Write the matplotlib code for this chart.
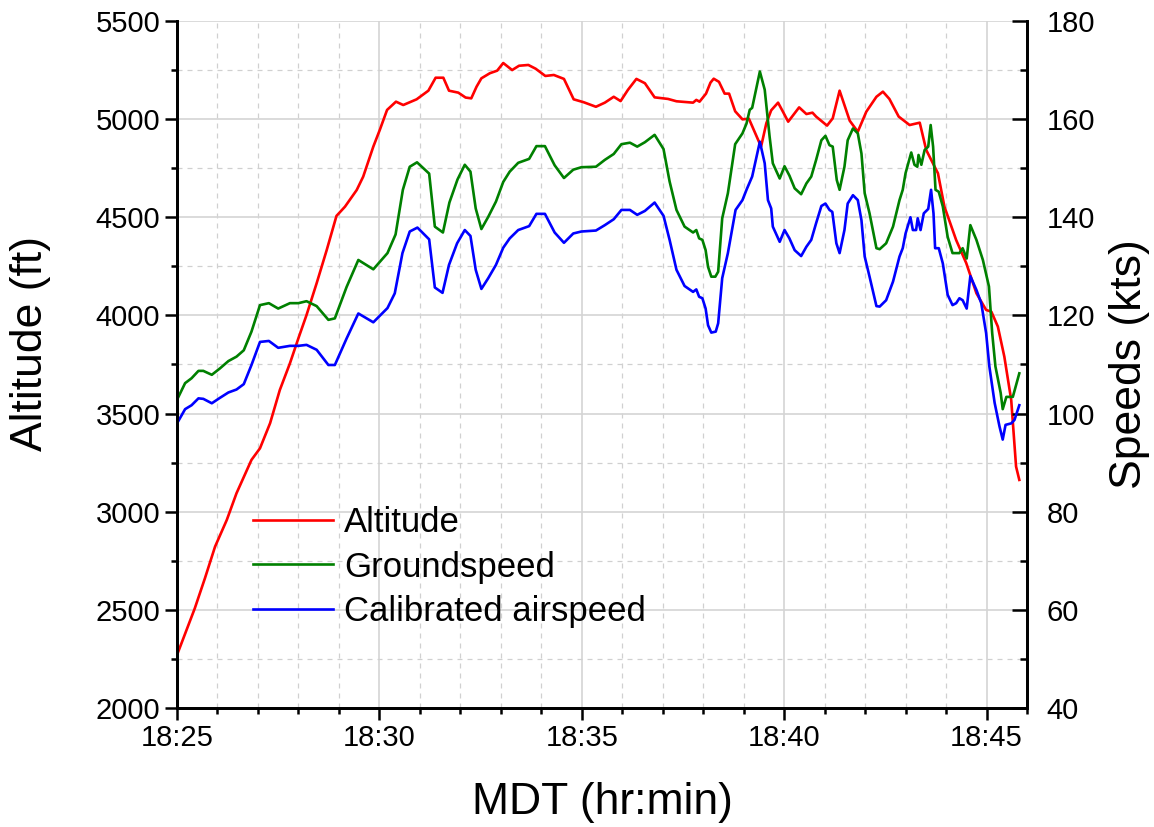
import numpy as np
import matplotlib
matplotlib.use("Agg")
import matplotlib.pyplot as plt
from matplotlib.ticker import MultipleLocator, FuncFormatter

plt.rcParams['font.family'] = ['Liberation Sans', 'DejaVu Sans']

# ---- data ----
# time in minutes after 18:25 MDT
alt_t = [0.00, 0.44, 0.69, 0.94, 1.23, 1.47, 1.84, 2.05, 2.30, 2.54, 2.79, 3.00, 3.20, 3.45, 3.70,
         3.94, 4.15, 4.44, 4.60, 4.85, 5.01, 5.19, 5.41, 5.59, 5.92, 6.21, 6.39, 6.58, 6.72, 6.95,
         7.13, 7.27, 7.40, 7.52, 7.73, 7.91, 8.06, 8.28, 8.45, 8.68, 8.86, 9.10, 9.31, 9.56, 9.80,
         10.05, 10.35, 10.57, 10.79, 10.96, 11.14, 11.35, 11.56, 11.80, 12.13, 12.34, 12.75, 12.83,
         12.91, 13.07, 13.18, 13.26, 13.39, 13.53, 13.64, 13.79, 13.97, 14.13, 14.43, 14.56, 14.68,
         14.85, 14.97, 15.10, 15.37, 15.55, 15.70, 15.79, 16.06, 16.20, 16.37, 16.62, 16.82, 17.03,
         17.28, 17.44, 17.60, 17.83, 18.10, 18.35, 18.51, 18.80, 18.96, 19.25, 19.50, 19.75, 19.99,
         20.12, 20.28, 20.44, 20.61, 20.73, 20.81]
alt_ft = [2270, 2508, 2661, 2822, 2958, 3094, 3264, 3323, 3451, 3620, 3756, 3884, 4002, 4164, 4334,
          4507, 4554, 4639, 4707, 4860, 4945, 5047, 5089, 5072, 5101, 5145, 5211, 5211, 5145, 5135,
          5110, 5106, 5165, 5208, 5234, 5247, 5286, 5250, 5272, 5276, 5257, 5220, 5225, 5205, 5101,
          5086, 5063, 5084, 5114, 5092, 5149, 5205, 5183, 5111, 5103, 5091, 5084, 5098,
          5089, 5130, 5186, 5206, 5190, 5130, 5130, 5040, 4999, 5002, 4860, 4979, 5045,
          5084, 5038, 4987, 5060, 5026, 5033, 5013, 4967, 5004, 5145, 4992, 4936, 5038,
          5114, 5140, 5103, 5013, 4970, 4982, 4843, 4724, 4554, 4384, 4266, 4113, 4028,
          4019, 3943, 3790, 3569, 3230, 3162]

gs_t = [0.00, 0.20, 0.36, 0.53, 0.65, 0.86, 1.06, 1.27, 1.47, 1.65, 1.84, 2.05, 2.27, 2.50, 2.79,
        3.00, 3.20, 3.45, 3.74, 3.90, 4.19, 4.48, 4.85, 5.20, 5.40, 5.58, 5.75, 5.93, 6.23, 6.37,
        6.57, 6.73, 6.93, 7.11, 7.25, 7.38, 7.52, 7.69, 7.88, 8.06, 8.22, 8.43, 8.70, 8.88, 9.09,
        9.33, 9.56, 9.79, 9.99, 10.35, 10.57, 10.79, 10.98, 11.19, 11.37, 11.56, 11.80, 12.02, 12.17,
        12.34, 12.54, 12.75, 12.83, 12.90, 12.98, 13.06, 13.12, 13.20, 13.30, 13.37, 13.47, 13.61,
        13.79, 13.97, 14.07, 14.15, 14.21, 14.40, 14.52, 14.64, 14.72, 14.89, 15.01, 15.13, 15.26,
        15.42, 15.55, 15.67, 15.79, 15.92, 16.02, 16.12, 16.20, 16.30, 16.37, 16.49, 16.57, 16.70,
        16.82, 16.91, 16.99, 17.11, 17.28, 17.36, 17.52, 17.69, 17.85, 17.93, 18.00, 18.14, 18.22,
        18.29, 18.32, 18.39, 18.47, 18.56, 18.62, 18.68, 18.74, 18.82, 18.92, 19.04, 19.16, 19.33,
        19.41, 19.51, 19.60, 19.75, 19.91, 20.06, 20.14, 20.22, 20.35, 20.40, 20.49, 20.65, 20.81]
gs_kt = [102.8, 106.2, 107.2, 108.7, 108.7, 107.9, 109.2, 110.7, 111.6, 112.9, 116.7, 122.1, 122.5,
         121.4, 122.5, 122.5, 122.9, 121.9, 119.1, 119.4, 125.8, 131.3, 129.4, 132.7, 136.5, 145.6,
         150.3, 151.2, 148.9, 138.1, 136.9, 143.0, 147.7, 150.7, 149.3, 141.8, 137.6, 140.1, 143.2,
         147.2, 149.3, 151.1, 151.9, 154.5, 154.5, 150.6, 148.0, 149.7, 150.2, 150.3, 151.7, 152.9,
         154.9, 155.2, 154.4, 155.3, 156.8, 153.9, 147.3, 141.5, 138.1, 136.9, 137.4, 135.7, 135.4,
         133.3, 129.9, 127.9, 127.9, 128.9, 139.8, 144.9, 154.9, 157.1, 159.1, 161.9, 162.3, 169.7,
         166.0, 156.5, 151.0, 147.9, 150.4, 148.5, 145.9, 144.7, 146.9, 148.3, 151.7, 155.7, 156.6,
         154.7, 154.4, 147.6, 145.6, 150.3, 155.7, 158.1, 157.1, 153.0, 144.9, 140.8, 133.7, 133.5,
         134.7, 138.1, 143.5, 145.6, 149.0, 153.2, 150.7, 150.3, 152.7, 150.7, 153.7, 154.4, 158.8,
         154.4, 145.6, 145.2, 142.2, 136.0, 132.7, 132.7, 133.7, 131.6, 138.4, 135.4, 131.3, 125.9,
         116.4, 109.6, 104.2, 100.9, 103.4, 103.4, 108.2]

cas_t = [0.00, 0.20, 0.36, 0.53, 0.65, 0.86, 1.06, 1.27, 1.47, 1.65, 1.84, 2.05, 2.27, 2.50, 2.79,
         3.00, 3.20, 3.45, 3.74, 3.90, 4.19, 4.48, 4.85, 5.20, 5.38, 5.57, 5.75, 5.94, 6.23, 6.37,
         6.56, 6.72, 6.92, 7.11, 7.25, 7.38, 7.52, 7.69, 7.88, 8.06, 8.22, 8.43, 8.70, 8.88, 9.09,
         9.33, 9.56, 9.79, 9.99, 10.35, 10.57, 10.79, 10.98, 11.19, 11.37, 11.56, 11.80, 12.02, 12.17,
         12.34, 12.54, 12.75, 12.83, 12.90, 12.98, 13.06, 13.12, 13.20, 13.31, 13.37, 13.47, 13.61,
         13.80, 13.97, 14.07, 14.21, 14.40, 14.52, 14.60, 14.68, 14.72, 14.89, 15.01, 15.13, 15.26,
         15.42, 15.55, 15.67, 15.79, 15.92, 16.02, 16.12, 16.19, 16.29, 16.37, 16.49, 16.57, 16.70,
         16.82, 16.91, 16.99, 17.11, 17.28, 17.36, 17.52, 17.69, 17.85, 17.93, 18.00, 18.12, 18.18,
         18.26, 18.30, 18.37, 18.45, 18.56, 18.63, 18.69, 18.73, 18.82, 18.92, 19.04, 19.16, 19.25,
         19.33, 19.41, 19.51, 19.60, 19.75, 19.87, 19.99, 20.07, 20.20, 20.32, 20.40, 20.47, 20.61,
         20.69, 20.81]
cas_kt = [98.0, 100.9, 101.7, 103.1, 103.0, 102.1, 103.2, 104.3, 104.9, 106.0, 109.9, 114.6, 114.8,
          113.4, 113.8, 113.8, 114.0, 113.0, 109.9, 109.9, 115.3, 120.4, 118.6, 121.5, 124.5, 132.7,
          137.1, 137.9, 135.5, 125.7, 124.6, 130.3, 134.7, 137.4, 136.2, 129.3, 125.4, 127.6, 130.3,
          133.8, 135.7, 137.4, 138.2, 140.7, 140.7, 136.9, 134.8, 136.7, 137.1, 137.3, 138.4, 139.6,
          141.5, 141.5, 140.5, 141.3, 143.0, 140.3, 135.4, 129.3, 126.0, 124.8, 125.3, 123.8, 123.5,
          121.4, 118.0, 116.5, 116.7, 118.4, 127.6, 132.7, 141.5, 143.5, 145.6, 148.3, 155.4, 151.0,
          143.5, 141.8, 138.1, 135.0, 137.4, 135.7, 133.3, 132.1, 134.0, 135.4, 138.8, 142.3, 142.8,
          141.5, 141.1, 134.7, 132.7, 137.4, 142.8, 144.5, 143.5, 139.4, 132.0, 127.9, 121.9, 121.8,
          123.1, 126.9, 132.0, 133.7, 136.7, 140.0, 137.4, 137.4, 139.8, 137.4, 140.8, 141.7, 145.6,
          140.8, 133.7, 133.7, 130.6, 124.2, 122.1, 122.5, 123.5, 123.1, 121.4, 128.0, 125.2, 122.5,
          116.4, 109.6, 102.2, 97.4, 94.7, 97.7, 98.0, 98.7, 101.7]

start_hr, start_min = 18, 25

# ---- figure ----
fig = plt.figure(figsize=(11.54, 8.27), dpi=100)
ax = fig.add_axes([177/1154, 1 - 708/827, 850/1154, 687/827])
ax2 = ax.twinx()

l1, = ax.plot(alt_t, alt_ft, color='#ff0000', lw=1.9, label='Altitude')
l2, = ax2.plot(gs_t, gs_kt, color='#008000', lw=1.9, label='Groundspeed')
l3, = ax2.plot(cas_t, cas_kt, color='#0000ff', lw=1.9, label='Calibrated airspeed')

ax.set_xlim(0, 21)
ax.set_ylim(2000, 5500)
ax2.set_ylim(40, 180)

ax.xaxis.set_major_locator(MultipleLocator(5))
ax.xaxis.set_minor_locator(MultipleLocator(1))
ax.xaxis.set_major_formatter(FuncFormatter(
    lambda v, p: f"{start_hr + int(start_min + v) // 60}:{int(start_min + v) % 60:02d}"))
ax.yaxis.set_major_locator(MultipleLocator(500))
ax.yaxis.set_minor_locator(MultipleLocator(250))
ax2.yaxis.set_major_locator(MultipleLocator(20))
ax2.yaxis.set_minor_locator(MultipleLocator(10))

# grid
ax.grid(True, which='major', color='#d4d4d4', lw=1.2, ls='-')
ax.grid(True, which='minor', color='#d0d0d0', lw=0.9, ls=(0, (4, 4)))
ax.set_axisbelow(True)

# spines and ticks
for a in (ax, ax2):
    a.spines['top'].set_visible(False)
    for s in ('left', 'right', 'bottom'):
        a.spines[s].set_linewidth(2)
ax.tick_params(axis='both', which='major', direction='out', length=9, width=1.8,
               labelsize=21, pad=3, colors='black')
ax.tick_params(axis='both', which='minor', direction='out', length=4.5, width=1.8)
ax.tick_params(axis='x', which='major', length=8.5)
ax.tick_params(axis='x', which='minor', length=4)
ax2.tick_params(axis='y', which='major', direction='in', length=10.5, width=1.8,
                labelsize=21, pad=14)
ax2.tick_params(axis='y', which='minor', direction='in', length=5, width=1.8)

# axis labels
ax.set_xlabel('MDT (hr:min)', fontsize=32, va='center')
ax.xaxis.set_label_coords(0.5, -0.138)
ax.set_ylabel('Altitude (ft)', fontsize=32, va='center')
ax.yaxis.set_label_coords(-0.172, 0.53)
ax2.set_ylabel('Speeds (kts)', fontsize=32, va='center', rotation=90)
ax2.yaxis.set_label_coords(1.121, 0.5)

# legend
ax2.legend(handles=[l1, l2, l3], loc='center left',
           bbox_to_anchor=(253/1154, 1 - 567/827), bbox_transform=fig.transFigure,
           frameon=False, fontsize=25, borderpad=0, borderaxespad=0,
           handlelength=2.3, handletextpad=0.32, labelspacing=0.33)

fig.savefig('out.png', dpi=100)
